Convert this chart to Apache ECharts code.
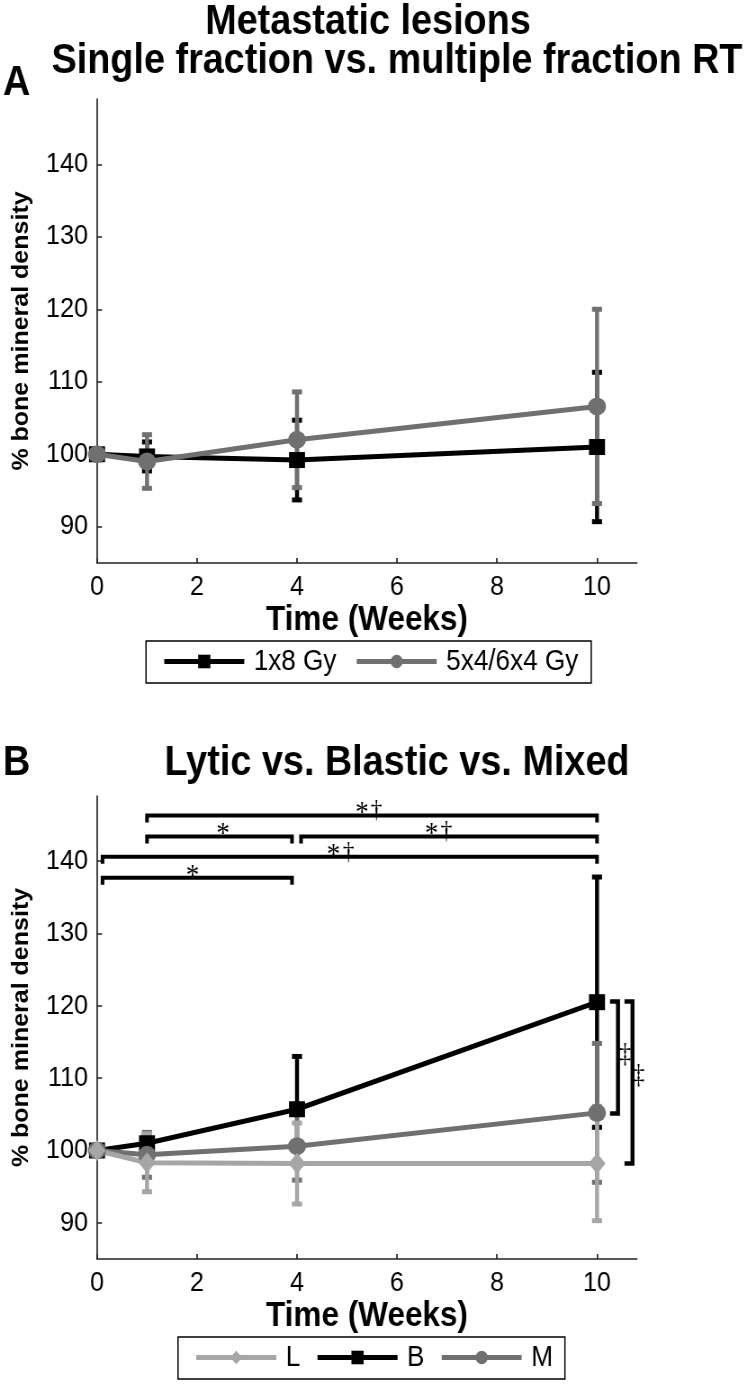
<!DOCTYPE html>
<html>
<head>
<meta charset="utf-8">
<script src="https://cdn.jsdelivr.net/npm/echarts@6/dist/echarts.min.js"></script>
<style>
html,body{margin:0;padding:0;background:#fff;overflow:hidden;width:751px;height:1384px;}
#chart{width:834.44px;height:1384px;transform:scaleX(0.9);transform-origin:0 0;}
</style>
</head>
<body>
<div id="chart"></div>
<script>
// ---------- data ----------
const weeks = [0, 1, 4, 10];
const xTicks = [0, 2, 4, 6, 8, 10];
const yTicks = [90, 100, 110, 120, 130, 140];

// Panel A
const singleName = '1x8 Gy';
const singleMean = [100, 99.7, 99.2, 101.0];
const singleSD   = [0, 2.0, 5.5, 10.3];
const multiName  = '5x4/6x4 Gy';
const multiMean  = [100, 99.0, 102.0, 106.6];
const multiSD    = [0, 3.7, 6.6, 13.4];

// Panel B
const lyticMean  = [100, 98.3, 98.2, 98.2];
const lyticSD    = [0, 4.0, 5.6, 7.9];
const blasticMean = [100, 101.0, 105.7, 120.5];
const blasticSD   = [0, 1.2, 7.3, 17.3];
const mixedMean  = [100, 99.4, 100.6, 105.2];
const mixedSD    = [0, 3.1, 4.7, 9.6];

// significance brackets (horizontal): start week, end week, level
const hBracketStart = [1, 1, 4.08, 0.11, 0.11];
const hBracketEnd   = [10, 3.9, 10, 10, 3.9];
const hBracketLevel = [146.3, 143.4, 143.4, 140.6, 137.7];
// vertical brackets at week 10: x, top, bottom
const vBracketX   = [10.42, 10.71];
const vBracketTop = [120.6, 120.6];
const vBracketBot = [105.1, 98.2];
// significance symbols
const sigX    = [5.30, 5.59, 2.52, 6.69, 6.99, 4.73, 5.03, 1.91, 10.56, 10.83];
const sigY    = [146.3, 146.3, 143.4, 143.4, 143.4, 140.6, 140.6, 137.7, 113, 110];
const sigText = ['*', '†', '*', '*', '†', '*', '†', '*', '‡', '‡'];

// ---------- styling ----------
// The figure is drawn 1/0.9 wider and squeezed horizontally by CSS (narrow Helvetica look).
const S = 0.9;
const X = v => v / S;
const FONT = '"Liberation Sans", Arial, Helvetica, sans-serif';
const SERIF = '"Liberation Serif", "Times New Roman", serif';
const BLACK = '#000000';
const DGRAY = '#707070';
const LGRAY = '#a6a6a6';
const AXIS = '#222222';

function lineSeries(name, ax, means, color, symbol, size) {
  return {
    type: 'line', name: name, xAxisIndex: ax, yAxisIndex: ax,
    data: weeks.map((w, i) => [w, means[i]]),
    symbol: symbol, symbolSize: [X(size[0]), size[1]], clip: false,
    itemStyle: { color: color },
    lineStyle: { color: color, width: 5 },
    emphasis: { disabled: true }, animation: false
  };
}
function errSeries(ax, means, sds, color) {
  const d = [];
  weeks.forEach((w, i) => { if (sds[i] > 0) d.push([w, means[i] - sds[i], means[i] + sds[i]]); });
  return {
    type: 'custom', xAxisIndex: ax, yAxisIndex: ax, data: d, animation: false, silent: true,
    renderItem: function (params, api) {
      const x = api.value(0);
      const lo = api.coord([x, api.value(1)]);
      const hi = api.coord([x, api.value(2)]);
      const c = X(5);
      const st = { stroke: color, lineWidth: X(4) };
      const cs = { stroke: color, lineWidth: 5 };
      return { type: 'group', children: [
        { type: 'line', shape: { x1: lo[0], y1: lo[1], x2: hi[0], y2: hi[1] }, style: st },
        { type: 'line', shape: { x1: lo[0] - c, y1: lo[1], x2: lo[0] + c, y2: lo[1] }, style: cs },
        { type: 'line', shape: { x1: hi[0] - c, y1: hi[1], x2: hi[0] + c, y2: hi[1] }, style: cs }
      ]};
    }
  };
}

function xAxis(grid) {
  return {
    gridIndex: grid, type: 'value', min: 0, max: 10.8,
    axisLine: { show: true, onZero: false, lineStyle: { color: AXIS, width: 1.5 } },
    axisTick: { show: true, inside: true, length: 5, customValues: xTicks, lineStyle: { color: AXIS, width: X(1.5) } },
    axisLabel: { customValues: xTicks, fontSize: 28, color: '#000', margin: 10, fontFamily: FONT },
    splitLine: { show: false },
    name: 'Time (Weeks)', nameLocation: 'middle', nameGap: 40,
    nameTextStyle: { fontSize: 35, fontWeight: 'bold', color: '#000', fontFamily: FONT }
  };
}
function yAxis(grid) {
  return {
    gridIndex: grid, type: 'value', min: 85, max: 149,
    axisLine: { show: true, onZero: false, lineStyle: { color: AXIS, width: X(1.5) } },
    axisTick: { show: true, inside: true, length: X(5), customValues: yTicks, lineStyle: { color: AXIS, width: 1.5 } },
    axisLabel: { customValues: yTicks, fontSize: 28, color: '#000', margin: X(9), fontFamily: FONT },
    splitLine: { show: false },
    name: '% bone mineral density', nameLocation: 'middle', nameGap: 71,
    nameTextStyle: { fontSize: 25, fontWeight: 'bold', color: '#000', fontFamily: FONT }
  };
}

const bracketSeries = {
  type: 'custom', xAxisIndex: 1, yAxisIndex: 1, animation: false, silent: true, z: 5,
  data: hBracketStart.map((s, i) => [s, hBracketEnd[i], hBracketLevel[i]]),
  renderItem: function (params, api) {
    const a = api.coord([api.value(0), api.value(2)]);
    const b = api.coord([api.value(1), api.value(2)]);
    return { type: 'polyline', shape: { points: [[a[0], a[1] + 7], a, b, [b[0], b[1] + 7]] },
      style: { stroke: BLACK, lineWidth: 4, fill: null } };
  }
};
const vBracketSeries = {
  type: 'custom', xAxisIndex: 1, yAxisIndex: 1, animation: false, silent: true, z: 5,
  data: vBracketX.map((x, i) => [x, vBracketTop[i], vBracketBot[i]]),
  renderItem: function (params, api) {
    const a = api.coord([api.value(0), api.value(1)]);
    const b = api.coord([api.value(0), api.value(2)]);
    const t = X(8);
    return { type: 'polyline', shape: { points: [[a[0] - t, a[1]], a, b, [b[0] - t, b[1]]] },
      style: { stroke: BLACK, lineWidth: X(4), fill: null } };
  }
};
const sigSeries = {
  type: 'custom', xAxisIndex: 1, yAxisIndex: 1, animation: false, silent: true, z: 6,
  data: sigX.map((x, i) => [x, sigY[i]]),
  renderItem: function (params, api) {
    const p = api.coord([api.value(0), api.value(1)]);
    const t = sigText[params.dataIndex];
    let size = 26, dy = 0;
    if (t === '*') { size = 30; dy = -2; }
    else if (t === '†') { size = 26; dy = -5; }
    else { size = 27; dy = -2; }
    return { type: 'text', x: p[0], y: p[1] + dy,
      style: { text: t, fill: BLACK, font: size + 'px ' + SERIF,
        textAlign: 'center', textVerticalAlign: 'middle' } };
  }
};

function legend(names, left, top, gap, padR) {
  return {
    data: names, left: X(left), top: top, orient: 'horizontal',
    itemWidth: X(80), itemHeight: 17, itemGap: X(gap),
    padding: [6, X(padR), 7, X(16)], borderColor: '#000', borderWidth: 1.5,
    lineStyle: { width: 5 },
    textStyle: { fontSize: 29, color: '#000', fontFamily: FONT, padding: [0, 0, 0, X(5)] },
    selectedMode: false
  };
}

const option = {
  backgroundColor: '#ffffff',
  animation: false,
  textStyle: { fontFamily: FONT },
  grid: [
    { left: X(97), top: 99, width: X(540), height: 464 },
    { left: X(97), top: 796, width: X(540), height: 463 }
  ],
  xAxis: [xAxis(0), xAxis(1)],
  yAxis: [yAxis(0), yAxis(1)],
  legend: [
    legend([singleName, multiName], 146, 641, 18, 13),
    legend(['L', 'B', 'M'], 178, 1337, 15, 12)
  ],
  graphic: [
    { type: 'text', x: X(368), y: 22, style: { text: 'Metastatic lesions', fill: '#000',
      font: 'bold 42px ' + FONT, textAlign: 'center', textVerticalAlign: 'middle' } },
    { type: 'text', x: X(397), y: 61, style: { text: 'Single fraction vs. multiple fraction RT', fill: '#000',
      font: 'bold 42px ' + FONT, textAlign: 'center', textVerticalAlign: 'middle' } },
    { type: 'text', x: X(3), y: 83, style: { text: 'A', fill: '#000',
      font: 'bold 42px ' + FONT, textAlign: 'left', textVerticalAlign: 'middle' } },
    { type: 'text', x: X(3), y: 763, style: { text: 'B', fill: '#000',
      font: 'bold 42px ' + FONT, textAlign: 'left', textVerticalAlign: 'middle' } },
    { type: 'text', x: X(397), y: 763, style: { text: 'Lytic vs. Blastic vs. Mixed', fill: '#000',
      font: 'bold 42px ' + FONT, textAlign: 'center', textVerticalAlign: 'middle' } }
  ],
  series: [
    errSeries(0, singleMean, singleSD, BLACK),
    lineSeries(singleName, 0, singleMean, BLACK, 'rect', [16, 16]),
    errSeries(0, multiMean, multiSD, DGRAY),
    lineSeries(multiName, 0, multiMean, DGRAY, 'circle', [18, 18]),

    errSeries(1, blasticMean, blasticSD, BLACK),
    lineSeries('B', 1, blasticMean, BLACK, 'rect', [16, 16]),
    errSeries(1, mixedMean, mixedSD, DGRAY),
    lineSeries('M', 1, mixedMean, DGRAY, 'circle', [18, 18]),
    errSeries(1, lyticMean, lyticSD, LGRAY),
    lineSeries('L', 1, lyticMean, LGRAY, 'diamond', [17, 21]),

    bracketSeries, vBracketSeries, sigSeries
  ]
};

const chart = echarts.init(document.getElementById('chart'), null, { renderer: 'canvas' });
chart.setOption(option);
</script>
</body>
</html>
